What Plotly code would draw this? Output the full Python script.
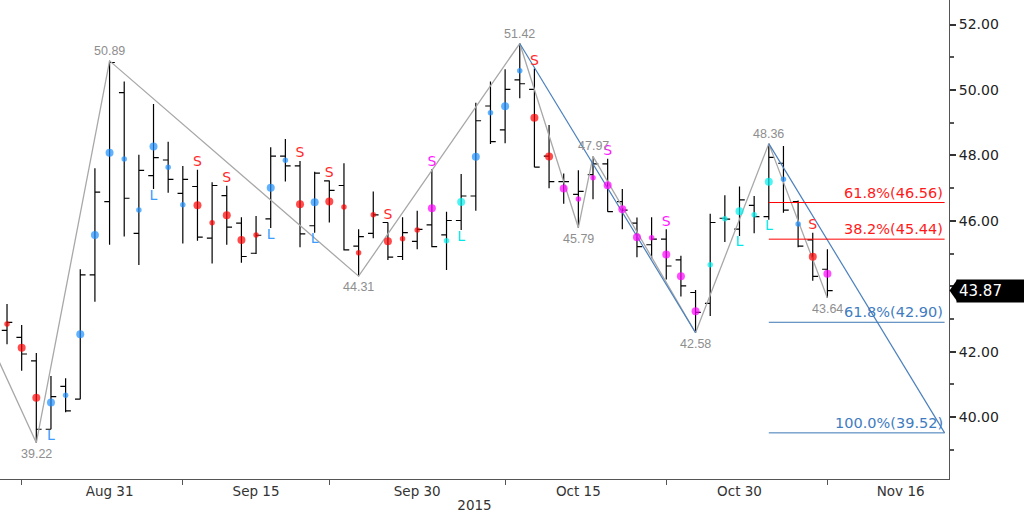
import plotly.graph_objects as go

# ---------------- data ----------------
dates = ["2015-08-20", "2015-08-21", "2015-08-24", "2015-08-25", "2015-08-26", "2015-08-27",
         "2015-08-28", "2015-08-31", "2015-09-01", "2015-09-02", "2015-09-03", "2015-09-04",
         "2015-09-08", "2015-09-09", "2015-09-10", "2015-09-11", "2015-09-14", "2015-09-15",
         "2015-09-16", "2015-09-17", "2015-09-18", "2015-09-21", "2015-09-22", "2015-09-23",
         "2015-09-24", "2015-09-25", "2015-09-28", "2015-09-29", "2015-09-30", "2015-10-01",
         "2015-10-02", "2015-10-05", "2015-10-06", "2015-10-07", "2015-10-08", "2015-10-09",
         "2015-10-12", "2015-10-13", "2015-10-14", "2015-10-15", "2015-10-16", "2015-10-19",
         "2015-10-20", "2015-10-21", "2015-10-22", "2015-10-23", "2015-10-26", "2015-10-27",
         "2015-10-28", "2015-10-29", "2015-10-30", "2015-11-02", "2015-11-03", "2015-11-04",
         "2015-11-05", "2015-11-06", "2015-11-09"]

opens = [42.65, 42.44, 41.72, 39.63, 40.94, 40.55, 44.35, 46.59, 49.92, 45.62, 47.38, 47.86,
         46.84, 47.05, 45.47, 46.77, 45.93, 45.01, 46.06, 47.98, 47.68, 45.85, 47.22, 47.08,
         45.23, 45.62, 45.95, 44.91, 45.37, 45.88, 45.57, 46.01, 46.76, 49.51, 48.78, 50.31,
         50.02, 47.98, 47.20, 46.81, 47.41, 47.74, 46.59, 45.93, 45.27, 45.44, 44.81, 43.81,
         43.48, 46.08, 45.75, 46.47, 46.13, 47.76, 46.59, 45.42, 44.52]
highs = [43.46, 42.82, 41.96, 41.26, 41.19, 44.52, 47.61, 50.89, 50.26, 48.02, 49.57, 48.42,
         47.68, 47.56, 47.18, 47.07, 46.11, 46.15, 48.25, 48.50, 47.83, 47.50, 47.23, 47.76,
         45.74, 46.90, 45.95, 46.11, 46.31, 47.58, 46.28, 47.43, 49.61, 50.26, 50.63, 51.42,
         50.66, 48.93, 47.45, 47.55, 47.97, 47.90, 46.97, 46.10, 46.11, 45.74, 44.93, 43.89,
         46.22, 46.78, 47.05, 46.76, 48.36, 48.29, 46.62, 45.64, 45.13]
lows = [42.23, 41.42, 39.22, 39.63, 40.15, 40.55, 43.53, 45.27, 45.52, 44.65, 46.97, 46.86,
        45.31, 45.39, 44.70, 45.27, 44.72, 44.99, 45.78, 47.20, 45.19, 45.64, 45.95, 45.09,
        44.31, 45.47, 44.80, 44.80, 45.13, 45.19, 44.50, 45.72, 46.31, 48.35, 48.37, 49.75,
        47.64, 47.00, 46.52, 45.79, 46.66, 46.28, 45.74, 44.89, 44.86, 44.21, 43.69, 42.58,
        43.09, 45.35, 45.54, 45.62, 46.03, 46.25, 45.19, 44.17, 43.64]
closes = [42.90, 41.93, 39.63, 40.63, 40.19, 44.35, 46.88, 50.84, 46.69, 47.54, 47.93, 47.27,
          47.27, 45.50, 47.08, 45.81, 44.91, 45.56, 47.98, 47.68, 45.60, 47.46, 46.93, 45.11,
          45.52, 46.18, 44.89, 45.64, 45.74, 45.21, 46.01, 46.76, 49.06, 48.42, 50.02, 50.19,
          47.64, 47.20, 47.20, 46.90, 47.74, 46.28, 46.33, 45.21, 45.44, 44.62, 44.01, 43.20,
          45.95, 46.05, 46.64, 46.13, 47.94, 46.33, 45.23, 44.30, 43.87]

# indicator dot class per bar (r=red, b=blue, m=magenta, c=cyan) and big/small flag
dot_cls = ["r", "r", "r", "b", "b", "b", "b", "b", "b", "b", "b", "b", "b", "r", "r", "r", "r",
           "r", "b", "b", "r", "b", "r", "r", "r", "r", "r", "r", "r", "m", "c", "c", "b", "b",
           "b", "b", "r", "r", "m", "m", "m", "m", "m", "m", "m", "m", "m", "m", "c", "c", "c",
           "c", "c", "b", "b", "r", "m"]
dot_big = [0, 1, 1, 1, 0, 1, 1, 1, 0, 0, 1, 0, 0, 1, 0, 1, 1, 0, 1, 0, 1, 1, 1, 0, 0, 0, 1, 0, 0,
           1, 0, 1, 1, 0, 1, 0, 1, 1, 1, 0, 0, 1, 1, 1, 0, 1, 1, 1, 0, 0, 1, 0, 1, 0, 0, 1, 1]

# S / L signals
sig_idx = [3, 10, 13, 15, 18, 20, 21, 22, 26, 29, 31, 36, 41, 45, 50, 52, 55]
sig_txt = ["L", "L", "S", "S", "L", "S", "L", "S", "S", "S", "L", "S", "S", "S", "L", "L", "S"]
sig_cls = ["b", "b", "r", "r", "b", "r", "b", "r", "r", "m", "c", "r", "m", "m", "c", "c", "r"]

# zig-zag swing line (first point lies left of the visible window)
zz_dates = ["2015-08-18", "2015-08-24", "2015-08-31", "2015-09-24", "2015-10-09",
            "2015-10-15", "2015-10-16", "2015-10-27", "2015-11-03", "2015-11-09"]
zz_vals = [43.12, 39.22, 50.89, 44.31, 51.42, 45.79, 47.97, 42.58, 48.36, 43.64]
zz_pos = ["", "bottom", "top", "bottom", "top", "bottom", "top", "bottom", "top", "bottom"]

# ABCD projection legs
abcd_dates = ["2015-10-09", "2015-10-27", "2015-11-03", "2015-11-19"]
abcd_vals = [51.42, 42.58, 48.36, 39.52]

# fibonacci levels
fib_pct = ["61.8%", "38.2%", "61.8%", "100.0%"]
fib_lvl = [46.56, 45.44, 42.90, 39.52]
fib_cls = ["red", "red", "blue", "blue"]
fib_start = "2015-11-03"
fib_end = "2015-11-19"

# axes
x_label_dates = ["2015-08-31", "2015-09-15", "2015-09-30", "2015-10-15", "2015-10-30", "2015-11-16"]
x_label_text = ["Aug 31", "Sep 15", "Sep 30", "Oct 15", "Oct 30", "Nov 16"]
x_minor_dates = ["2015-08-21", "2015-09-08", "2015-09-22", "2015-10-08", "2015-10-23", "2015-11-09"]
y_tick_vals = [40, 42, 44, 46, 48, 50, 52]
y_tick_text = ["40.00", "42.00", "", "46.00", "48.00", "50.00", "52.00"]

# ---------------- styling ----------------
DOT_COL = {"r": "#ff0000", "b": "#1e90ff", "m": "#ff00ff", "c": "#00f0f0"}
SIG_COL = {"r": "#ff2b2b", "b": "#3c9cff", "m": "#ff1aff", "c": "#00e8e8"}
FIB_COL = {"red": "#ff1a1a", "blue": "#3f7cbf"}
FIB_LINE = {"red": "#ff0000", "blue": "#3c78b4"}
FONT = "DejaVu Sans"

fig = go.Figure()

# zig-zag
fig.add_trace(go.Scatter(x=zz_dates, y=zz_vals, mode="lines",
                         line=dict(color="#a8a8a8", width=1.3), hoverinfo="skip"))

# ABCD blue legs
fig.add_trace(go.Scatter(x=[abcd_dates[0], abcd_dates[1], None, abcd_dates[2], abcd_dates[3]],
                         y=[abcd_vals[0], abcd_vals[1], None, abcd_vals[2], abcd_vals[3]],
                         mode="lines", line=dict(color="#4a80bd", width=1.2), hoverinfo="skip"))

# fib horizontal lines
for lvl, cls in zip(fib_lvl, fib_cls):
    fig.add_trace(go.Scatter(x=[fib_start, fib_end], y=[lvl, lvl], mode="lines",
                             line=dict(color=FIB_LINE[cls], width=1), hoverinfo="skip"))

# OHLC bars
fig.add_trace(go.Ohlc(x=dates, open=opens, high=highs, low=lows, close=closes,
                      increasing=dict(line=dict(color="#000000", width=1.2)),
                      decreasing=dict(line=dict(color="#000000", width=1.2)),
                      tickwidth=0.36, hoverinfo="skip"))

# indicator dots at bar mid-point
mids = [(h + l) / 2 for h, l in zip(highs, lows)]
fig.add_trace(go.Scatter(x=dates, y=mids, mode="markers",
                         marker=dict(color=[DOT_COL[c] for c in dot_cls],
                                     size=[8 if b else 5.5 for b in dot_big],
                                     line=dict(width=0)),
                         hoverinfo="skip"))

# S / L signal letters
s_x = [dates[i] for i, t in zip(sig_idx, sig_txt) if t == "S"]
s_y = [highs[i] for i, t in zip(sig_idx, sig_txt) if t == "S"]
s_c = [SIG_COL[c] for c, t in zip(sig_cls, sig_txt) if t == "S"]
l_x = [dates[i] for i, t in zip(sig_idx, sig_txt) if t == "L"]
l_y = [lows[i] for i, t in zip(sig_idx, sig_txt) if t == "L"]
l_c = [SIG_COL[c] for c, t in zip(sig_cls, sig_txt) if t == "L"]
fig.add_trace(go.Scatter(x=s_x, y=s_y, mode="text", text=["S"] * len(s_x),
                         textposition="top center",
                         textfont=dict(family=FONT, size=14, color=s_c), hoverinfo="skip"))
fig.add_trace(go.Scatter(x=l_x, y=l_y, mode="text", text=["L"] * len(l_x),
                         textposition="bottom center",
                         textfont=dict(family=FONT, size=14, color=l_c), hoverinfo="skip"))

# pivot value labels
for d, v, p in zip(zz_dates, zz_vals, zz_pos):
    if not p:
        continue
    fig.add_annotation(x=d, y=v, text=f"{v:.2f}", showarrow=False,
                       yanchor="bottom" if p == "top" else "top",
                       yshift=1 if p == "top" else -2,
                       font=dict(family="Liberation Sans", size=12.5, color="#8e8e8e"))

# fib labels
for pct, lvl, cls in zip(fib_pct, fib_lvl, fib_cls):
    fig.add_annotation(x=fib_end, y=lvl, text=f"{pct}({lvl:.2f})", showarrow=False,
                       xanchor="right", yanchor="bottom", yshift=0,
                       font=dict(family=FONT, size=14.5, color=FIB_COL[cls]))

# last price box
last = closes[-1]
fig.add_annotation(xref="paper", x=1, y=last, text=f"{last:.2f}", showarrow=False,
                   xanchor="left", yanchor="middle", xshift=7, width=66, align="left",
                   bgcolor="#000000", borderpad=2,
                   font=dict(family=FONT, size=15, color="#ffffff"))
fig.add_shape(type="path", xref="paper", yref="y",
              path=f"M 1.0005 {last} L 1.0085 {last + 0.33} L 1.0085 {last - 0.33} Z",
              fillcolor="#000000", line=dict(width=0))

fig.update_layout(
    width=1024, height=517,
    margin=dict(l=0, r=75, t=0, b=38),
    paper_bgcolor="white", plot_bgcolor="white",
    showlegend=False,
    xaxis=dict(
        type="date",
        range=["2015-08-19 12:30", "2015-11-19 07:12"],
        rangebreaks=[dict(bounds=["sat", "mon"]), dict(values=["2015-09-07"])],
        rangeslider=dict(visible=False),
        showgrid=False, zeroline=False,
        showline=True, linecolor="#555555", linewidth=1,
        tickmode="array", tickvals=x_label_dates, ticktext=x_label_text,
        ticks="", ticklen=0,
        minor=dict(tickmode="array", tickvals=x_minor_dates, ticks="outside",
                   ticklen=5, tickcolor="#555555", showgrid=False),
        tickfont=dict(family=FONT, size=13.5, color="#333333"),
        title=dict(text="2015", font=dict(family=FONT, size=13.5, color="#333333"), standoff=2),
    ),
    yaxis=dict(
        side="right",
        range=[38.11, 52.75],
        showgrid=False, zeroline=False,
        showline=True, linecolor="#555555", linewidth=1,
        tickmode="array", tickvals=y_tick_vals, ticktext=y_tick_text,
        ticks="outside", ticklen=6, tickwidth=2, tickcolor="#333333",
        minor=dict(dtick=1, ticks="outside", ticklen=4, tickcolor="#555555", showgrid=False),
        tickfont=dict(family=FONT, size=14, color="#222222"),
    ),
)

fig.write_html("out.html", config={"displayModeBar": False},
               post_script="document.body.style.margin='0px';")
